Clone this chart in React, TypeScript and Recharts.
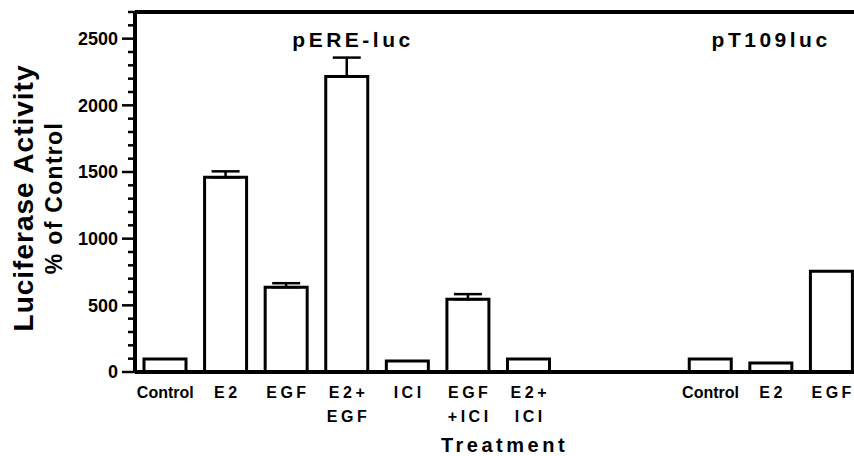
import { BarChart, Bar, XAxis, YAxis, ErrorBar, ReferenceLine } from "recharts"

// slot order: pERE-luc group, two empty slots, pT109luc group
const tickLabels: string[][] = [
  ["Control"],
  ["E2"],
  ["EGF"],
  ["E2+", "EGF"],
  ["ICI"],
  ["EGF", "+ICI"],
  ["E2+", "ICI"],
  [],
  [],
  ["Control"],
  ["E2"],
  ["EGF"],
]
const activity: (number | null)[] = [97, 1460, 636, 2216, 82, 546, 97, null, null, 97, 67, 756]
const errorUp: (number | null)[] = [null, 45, 30, 142, null, 38, null, null, null, null, null, null]
const yTicks = [
  0, 100, 200, 300, 400, 500, 600, 700, 800, 900, 1000, 1100, 1200, 1300,
  1400, 1500, 1600, 1700, 1800, 1900, 2000, 2100, 2200, 2300, 2400, 2500, 2600, 2700,
]
const groupTitles = [
  { slot: 3, text: "pERE-luc" },
  { slot: 10, text: "pT109luc" },
]

const FONT = "'Liberation Sans', Arial, Helvetica, sans-serif"

const data = activity.map((v, i) => ({
  slot: i,
  activity: v,
  err: errorUp[i] == null ? undefined : [0, errorUp[i]],
}))

function YTick({ x, y, payload }: any) {
  const v = payload.value as number
  const major = v % 500 === 0
  return (
    <g>
      <line x1={x - (major ? 13 : 7)} x2={x} y1={y} y2={y} stroke="#000" strokeWidth={2.5} />
      {major && (
        <text x={x - 17} y={y} dy="0.36em" textAnchor="end" fontFamily={FONT} fontWeight="bold" fontSize={18} fill="#000">
          {v}
        </text>
      )}
    </g>
  )
}

function XTick({ x, y, payload }: any) {
  const lines = tickLabels[payload.value] || []
  return (
    <g>
      {lines.map((t, k) => (
        <text
          key={k}
          x={x + (t === "Control" ? 0 : 1.5)}
          y={y + 26 + k * 24}
          textAnchor="middle"
          fontFamily={FONT}
          fontWeight="bold"
          fontSize={16}
          letterSpacing={t === "Control" ? 0 : 3.5}
          fill="#000"
        >
          {t}
        </text>
      ))}
    </g>
  )
}

function YTitle() {
  return (
    <g fontFamily={FONT} fontWeight="bold" fill="#000">
      <text x={33} y={198} transform="rotate(-90, 33, 198)" textAnchor="middle" fontSize={28} letterSpacing={1}>
        Luciferase Activity
      </text>
      <text x={62} y={198} transform="rotate(-90, 62, 198)" textAnchor="middle" fontSize={23} letterSpacing={1.3}>
        % of Control
      </text>
    </g>
  )
}

function XTitle({ viewBox }: any) {
  return (
    <text
      x={viewBox.x + viewBox.width / 2 + 6}
      y={viewBox.y + 80}
      textAnchor="middle"
      fontFamily={FONT}
      fontWeight="bold"
      fontSize={20}
      letterSpacing={3.5}
      fill="#000"
    >
      Treatment
    </text>
  )
}

function GroupTitle(text: string, dx: number) {
  return ({ viewBox }: any) => (
    <text
      x={viewBox.x + dx}
      y={viewBox.y + 35}
      textAnchor="middle"
      fontFamily={FONT}
      fontWeight="bold"
      fontSize={21}
      letterSpacing={3.5}
      fill="#000"
    >
      {text}
    </text>
  )
}

export default function App() {
  return (
    <div style={{ position: "fixed", top: 0, left: 0, width: 854, height: 456, overflow: "hidden", background: "#fff" }}>
      <BarChart width={862} height={456} data={data} margin={{ top: 12, right: 0, bottom: 0, left: 0 }} barSize={42}>
        <XAxis
          dataKey="slot"
          height={84}
          axisLine={{ stroke: "#000", strokeWidth: 4 }}
          tickLine={false}
          tickSize={0}
          tickMargin={0}
          interval={0}
          tick={<XTick />}
          label={{ content: <XTitle /> }}
        />
        <YAxis
          width={135}
          domain={[0, 2700]}
          ticks={yTicks}
          interval={0}
          axisLine={{ stroke: "#000", strokeWidth: 4 }}
          tickLine={false}
          tickSize={0}
          tickMargin={0}
          tick={<YTick />}
          label={{ content: <YTitle /> }}
        />
        <ReferenceLine y={2700} stroke="#000" strokeWidth={4} />
        {groupTitles.map((g) => (
          <ReferenceLine
            key={g.text}
            x={g.slot}
            stroke="none"
            label={{ content: GroupTitle(g.text, g.slot === 3 ? 6 : 0) }}
          />
        ))}
        <Bar dataKey="activity" fill="#fff" stroke="#000" strokeWidth={3} isAnimationActive={false}>
          <ErrorBar dataKey="err" direction="y" width={14} stroke="#000" strokeWidth={2.5} />
        </Bar>
      </BarChart>
    </div>
  )
}
